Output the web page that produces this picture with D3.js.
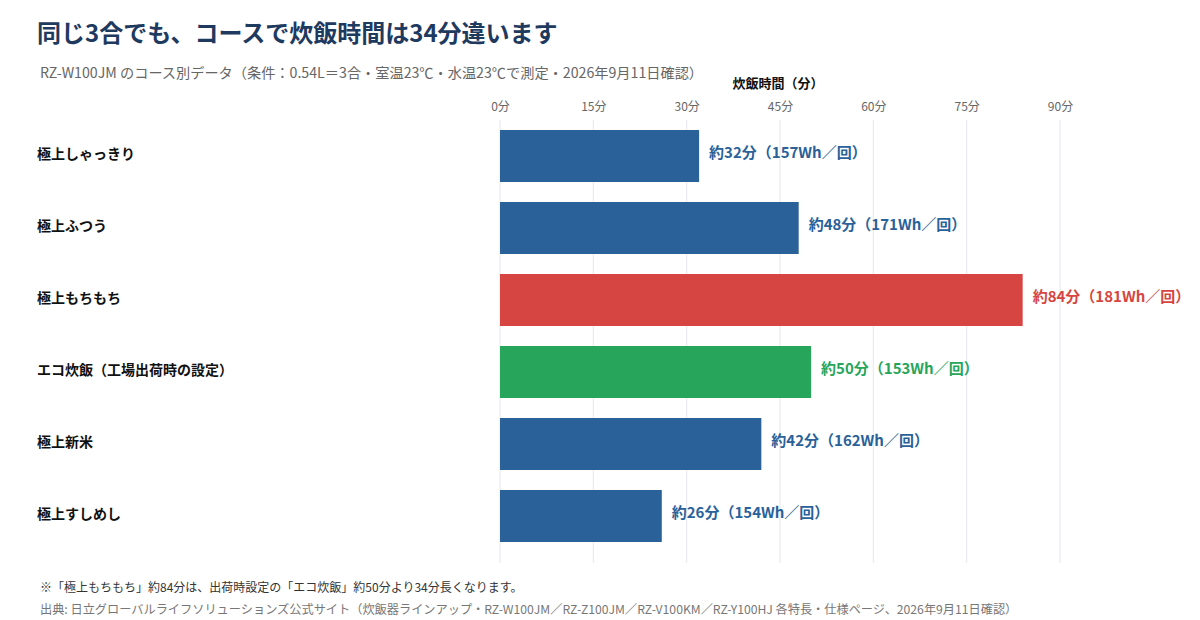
<!DOCTYPE html>
<html lang="ja">
<head>
<meta charset="utf-8">
<title>炊飯時間</title>
<script src="https://cdn.jsdelivr.net/npm/d3@7"></script>
<style>
  body { margin: 0; background: #fff; }
  svg { display: block; font-family: "Noto Sans CJK JP", "Noto Sans", sans-serif; }
</style>
</head>
<body>
<script>
// data
var courses = ["極上しゃっきり", "極上ふつう", "極上もちもち", "エコ炊飯（工場出荷時の設定）", "極上新米", "極上すしめし"];
var minutes = [32, 48, 84, 50, 42, 26];
var watts = [157, 171, 181, 153, 162, 154];
var kinds = ["normal", "normal", "max", "eco", "normal", "normal"];
var ticks = [0, 15, 30, 45, 60, 75, 90];

var colors = { normal: "#2a6199", max: "#d64541", eco: "#27a55a" };

var w = 1200, h = 620;
var svg = d3.select("body").append("svg")
    .attr("width", w)
    .attr("height", h);

var rows = courses.map(function (c, i) {
  return { name: c, min: minutes[i], wh: watts[i], kind: kinds[i] };
});

var x = d3.scaleLinear().domain([0, 90]).range([500, 1060]);
var y = d3.scaleBand().domain(courses).range([120, 552])
    .paddingInner(0.2778).paddingOuter(0.139);

// title + subtitle
svg.append("text")
   .attr("x", 37).attr("y", 42)
   .style("font-size", "24px").style("font-weight", "bold")
   .style("fill", "#1f3a5f")
   .text("同じ3合でも、コースで炊飯時間は34分違います");

svg.append("text")
   .attr("x", 40).attr("y", 78)
   .style("font-size", "14.2px").style("fill", "#666")
   .text("RZ-W100JM のコース別データ（条件：0.54L＝3合・室温23℃・水温23℃で測定・2026年9月11日確認）");

// grid
svg.append("g").selectAll("line")
   .data(ticks).enter().append("line")
   .attr("x1", function (d) { return x(d); })
   .attr("x2", function (d) { return x(d); })
   .attr("y1", 120).attr("y2", 563)
   .style("stroke", "#e6e6ec").style("stroke-width", 1);

// top axis
var axis = svg.append("g")
   .attr("transform", "translate(0,115)")
   .call(d3.axisTop(x).tickValues(ticks).tickSize(0).tickPadding(4)
     .tickFormat(function (d) { return d + "分"; }));
axis.select(".domain").remove();
axis.selectAll("text")
   .style("font-family", "\"Noto Sans CJK JP\", sans-serif")
   .style("font-size", "12px").style("fill", "#666");

svg.append("text")
   .attr("x", (x(0) + x(90)) / 2 - 2).attr("y", 88)
   .attr("text-anchor", "middle")
   .style("font-size", "13px").style("font-weight", "bold").style("fill", "#111")
   .text("炊飯時間（分）");

// bars
svg.append("g").selectAll("rect")
   .data(rows).enter().append("rect")
   .attr("x", x(0))
   .attr("y", function (d) { return y(d.name); })
   .attr("width", function (d) { return x(d.min) - x(0); })
   .attr("height", y.bandwidth())
   .style("fill", function (d) { return colors[d.kind]; });

// value labels
svg.append("g").selectAll("text")
   .data(rows).enter().append("text")
   .attr("x", function (d) { return x(d.min) + 10; })
   .attr("y", function (d) { return y(d.name) + y.bandwidth() / 2 - 3; })
   .attr("dy", "0.35em")
   .style("font-size", "15px").style("font-weight", "bold")
   .style("fill", function (d) { return colors[d.kind]; })
   .text(function (d) { return "約" + d.min + "分（" + d.wh + "Wh／回）"; });

// category labels
svg.append("g").selectAll("text")
   .data(rows).enter().append("text")
   .attr("x", 37)
   .attr("y", function (d) { return y(d.name) + y.bandwidth() / 2 - 2; })
   .attr("dy", "0.35em")
   .style("font-size", "14px").style("font-weight", "bold").style("fill", "#111")
   .text(function (d) { return d.name; });

// notes
svg.append("text")
   .attr("x", 40).attr("y", 592)
   .style("font-size", "12px").style("fill", "#333")
   .text("※「極上もちもち」約84分は、出荷時設定の「エコ炊飯」約50分より34分長くなります。");

svg.append("text")
   .attr("x", 40).attr("y", 614)
   .style("font-size", "12.2px").style("fill", "#777")
   .text("出典: 日立グローバルライフソリューションズ公式サイト（炊飯器ラインアップ・RZ-W100JM／RZ-Z100JM／RZ-V100KM／RZ-Y100HJ 各特長・仕様ページ、2026年9月11日確認）");
</script>
</body>
</html>
